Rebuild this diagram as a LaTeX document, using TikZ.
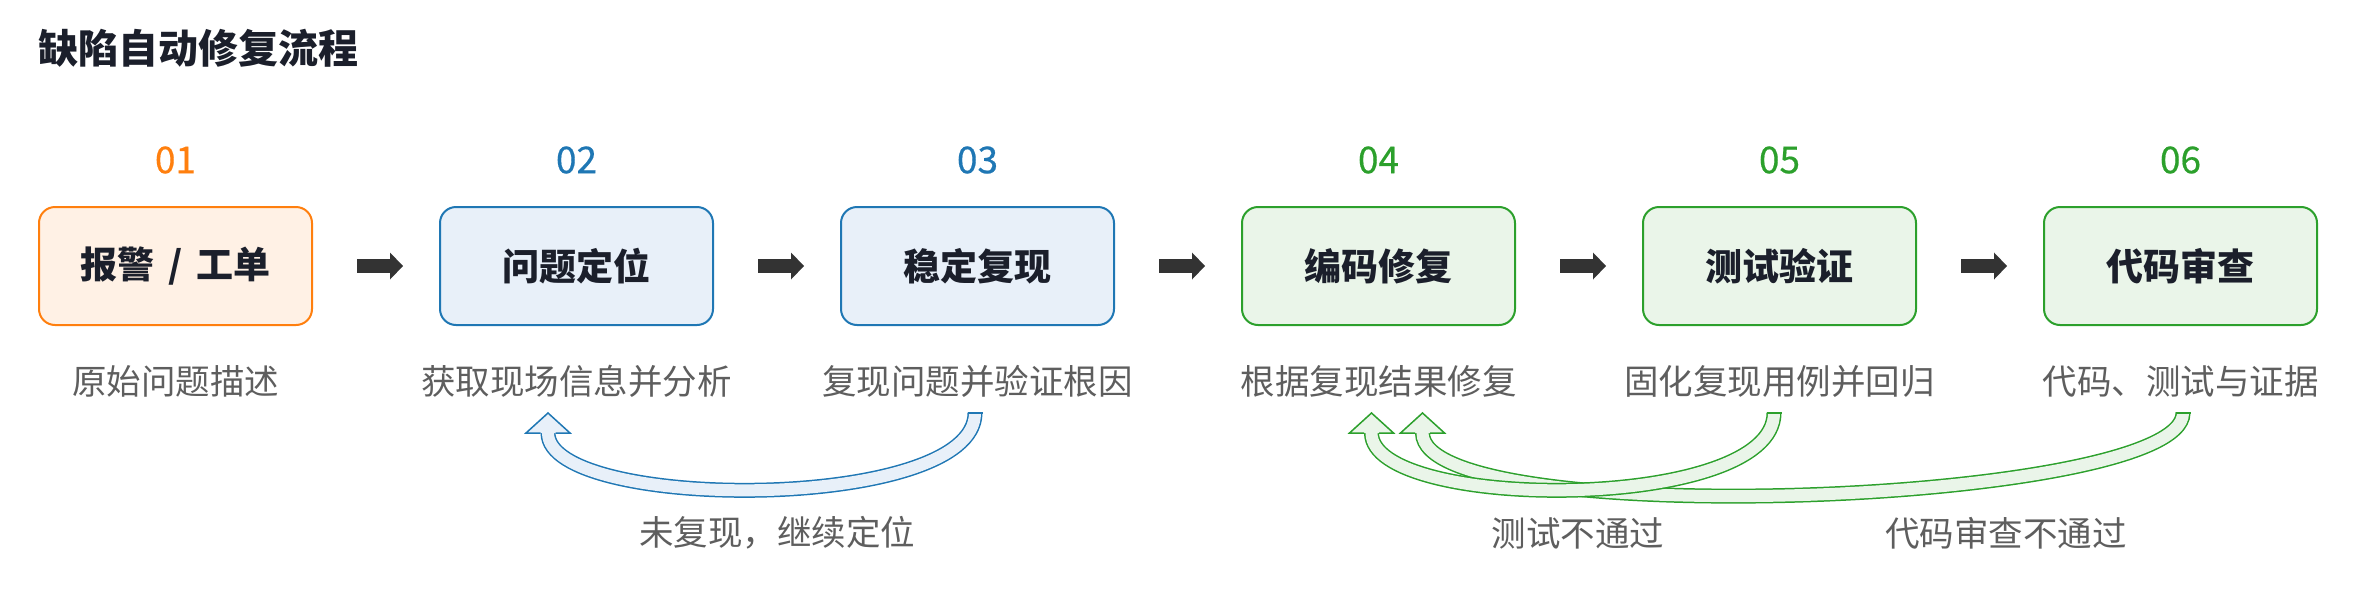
\documentclass[tikz,border=0pt]{standalone}
\usepackage{fontspec}
\setmainfont{Noto Sans CJK SC}
\newfontfamily\numfont[FakeBold=0.5]{Noto Sans CJK SC}
\usetikzlibrary{arrows.meta}

\definecolor{orangedraw}{HTML}{FF7F0E}
\definecolor{orangefill}{HTML}{FFF1E5}
\definecolor{bluedraw}{HTML}{1F77B4}
\definecolor{bluefill}{HTML}{E8F0F9}
\definecolor{greendraw}{HTML}{2CA02C}
\definecolor{greenfill}{HTML}{EAF5E9}
\definecolor{titleink}{HTML}{1B1F2B}
\definecolor{noteink}{HTML}{5E5E5E}
\definecolor{flowink}{HTML}{333333}

\begin{document}
\begin{tikzpicture}[x=1pt,y=1pt,
  every node/.append style={inner sep=0pt,outer sep=0pt},
  stepbox/.style 2 args={draw=#1,fill=#2,line width=2pt,rounded corners=16pt,
    minimum width=273pt,minimum height=118pt,text=titleink,
    font=\fontsize{37}{44}\selectfont\bfseries},
  stepnum/.style={text=#1,font=\fontsize{37}{44}\selectfont\numfont},
  stepnote/.style={text=noteink,font=\fontsize{34.5}{41}\selectfont},
  flow/.style={draw=flowink,line width=14pt,
    -{Triangle[length=13pt,width=27pt,line width=0pt]},
    shorten <=45pt,shorten >=37pt},
  loopback/.style 2 args={draw=#1,line width=1.5pt,double=#2,double distance=12pt},
  loophead/.style 2 args={draw=#1,fill=#2,line width=1.5pt,line join=miter},
]
  \useasboundingbox (0,0) rectangle (2356,-600);

  \node[anchor=west,text=titleink,font=\fontsize{40}{48}\selectfont\bfseries] (title) at (38,-48) {缺陷自动修复流程};

  % step numbers
  \node[stepnum=orangedraw] (n1) at (175.5,-160) {01};
  \node[stepnum=bluedraw] (n2) at (576.5,-160) {02};
  \node[stepnum=bluedraw] (n3) at (977.5,-160) {03};
  \node[stepnum=greendraw] (n4) at (1378.5,-160) {04};
  \node[stepnum=greendraw] (n5) at (1779.5,-160) {05};
  \node[stepnum=greendraw] (n6) at (2180.5,-160) {06};

  % steps
  \node[stepbox={orangedraw}{orangefill}] (alarm) at (175.5,-266) {报警\hspace{0.38em}/\hspace{0.38em}工单};
  \node[stepbox={bluedraw}{bluefill}] (locate) at (576.5,-266) {问题定位};
  \node[stepbox={bluedraw}{bluefill}] (reproduce) at (977.5,-266) {稳定复现};
  \node[stepbox={greendraw}{greenfill}] (patch) at (1378.5,-266) {编码修复};
  \node[stepbox={greendraw}{greenfill}] (verify) at (1779.5,-266) {测试验证};
  \node[stepbox={greendraw}{greenfill}] (review) at (2180.5,-266) {代码审查};

  \node[stepnote] (d1) at (175.5,-381) {原始问题描述};
  \node[stepnote] (d2) at (576.5,-381) {获取现场信息并分析};
  \node[stepnote] (d3) at (977.5,-381) {复现问题并验证根因};
  \node[stepnote] (d4) at (1378.5,-381) {根据复现结果修复};
  \node[stepnote] (d5) at (1779.5,-381) {固化复现用例并回归};
  \node[stepnote] (d6) at (2180.5,-381) {代码、测试与证据};

  \draw[flow] (alarm) -- (locate);
  \draw[flow] (locate) -- (reproduce);
  \draw[flow] (reproduce) -- (patch);
  \draw[flow] (patch) -- (verify);
  \draw[flow] (verify) -- (review);

  % loop back ends
  \coordinate (r3) at ([xshift=-2.5pt,yshift=-88pt]reproduce.south);
  \coordinate (h2) at ([xshift=-28.5pt,yshift=-108pt]locate.south);
  \coordinate (v5) at ([xshift=-5.5pt,yshift=-88pt]verify.south);
  \coordinate (h4a) at ([xshift=-7pt,yshift=-108pt]patch.south);
  \coordinate (q6) at ([xshift=2.5pt,yshift=-88pt]review.south);
  \coordinate (h4b) at ([xshift=44pt,yshift=-108pt]patch.south);

  % not reproduced
  \draw[loopback={bluedraw}{bluefill}] (r3) .. controls +(0,-100) and +(0,-79) .. (h2) -- ++(0,6);
  \draw[bluedraw,line width=1.5pt] ([xshift=-7.5pt]r3) -- ([xshift=7.5pt]r3);
  \filldraw[loophead={bluedraw}{bluefill}] ([xshift=-7.5pt]h2) -- ++(-14.5,0) -- ++(22,20) -- ++(22,-20) -- ++(-14.5,0);
  \node[stepnote] (miss) at (777,-533) {未复现，继续定位};

  % review failed
  \draw[loopback={greendraw}{greenfill}] (q6) .. controls +(0,-92) and +(0,-100) .. (h4b) -- ++(0,6);
  \draw[greendraw,line width=1.5pt] ([xshift=-7.5pt]q6) -- ([xshift=7.5pt]q6);
  \filldraw[loophead={greendraw}{greenfill}] ([xshift=-7.5pt]h4b) -- ++(-14.5,0) -- ++(22,20) -- ++(22,-20) -- ++(-14.5,0);

  % test failed
  \draw[loopback={greendraw}{greenfill}] (v5) .. controls +(0,-100) and +(0,-79) .. (h4a) -- ++(0,6);
  \draw[greendraw,line width=1.5pt] ([xshift=-7.5pt]v5) -- ([xshift=7.5pt]v5);
  \filldraw[loophead={greendraw}{greenfill}] ([xshift=-7.5pt]h4a) -- ++(-14.5,0) -- ++(22,20) -- ++(22,-20) -- ++(-14.5,0);

  \node[stepnote] (testfail) at (1578,-533) {测试不通过};
  \node[stepnote] (reviewfail) at (2006,-533) {代码审查不通过};
\end{tikzpicture}
\end{document}
